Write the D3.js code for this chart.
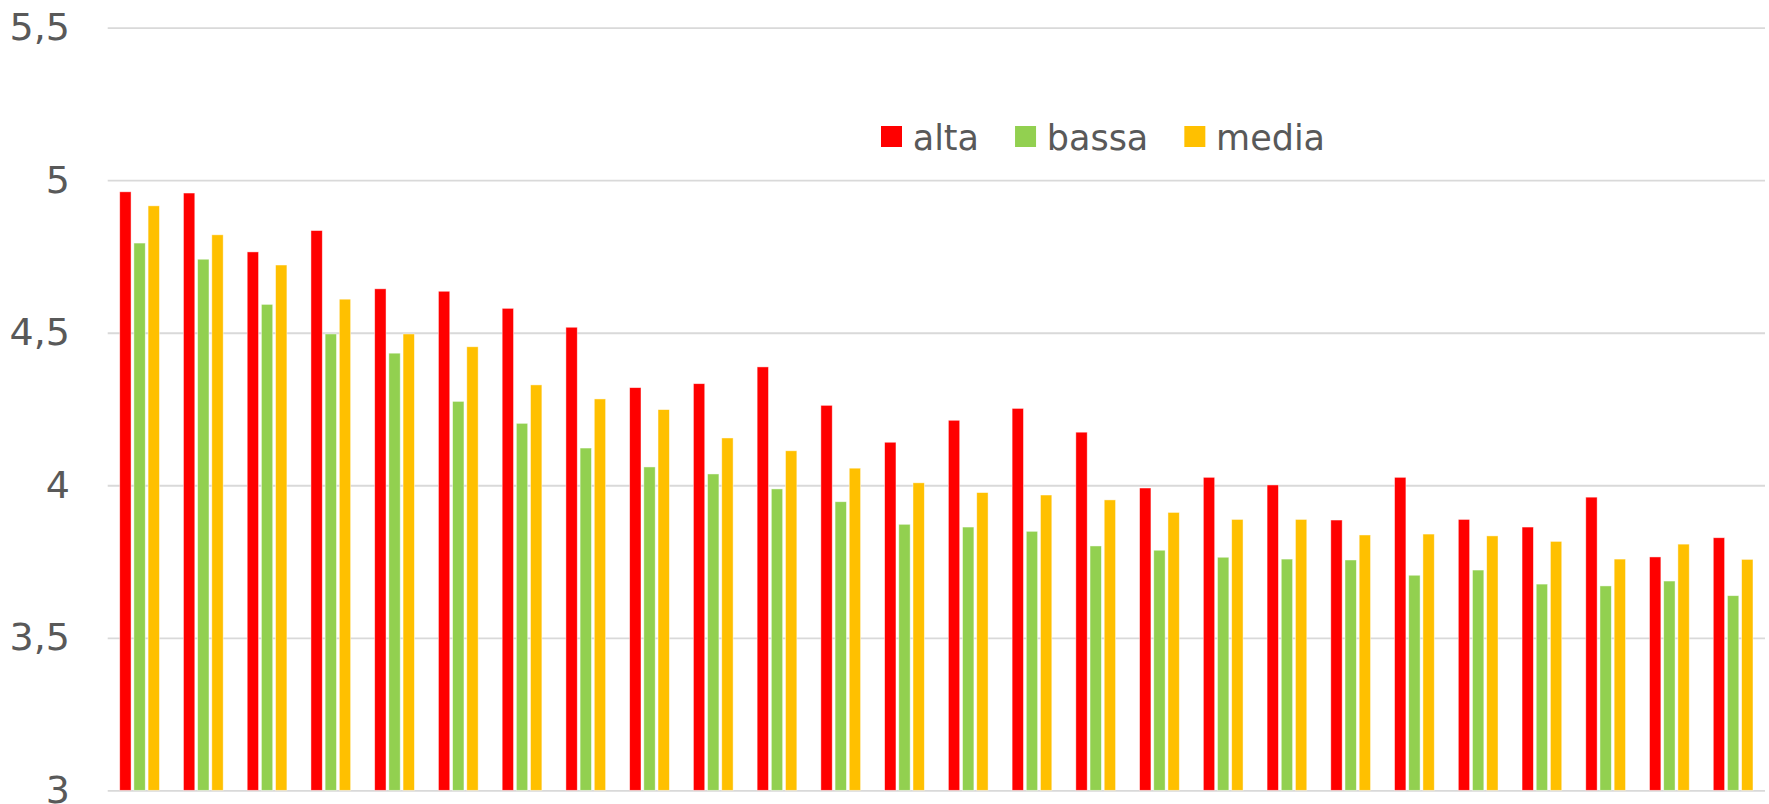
<!DOCTYPE html>
<html>
<head>
<meta charset="utf-8">
<script src="https://cdn.jsdelivr.net/npm/d3@7"></script>
<style>
  body { margin: 0; background: #fff; }
  svg { display: block; }
</style>
</head>
<body>
<div id="chart"></div>
<script>
// values
var categories = ["1","2","3","4","5","6","7","8","9","10","11","12","13",
  "14","15","16","17","18","19","20","21","22","23","24","25","26"];
var seriesNames = ["alta", "bassa", "media"];
var seriesColors = ["#FF0000", "#92D050", "#FFC000"];

var alta = [4.962, 4.958, 4.765, 4.835, 4.644, 4.636, 4.580, 4.518, 4.320, 4.333,
  4.388, 4.262, 4.141, 4.213, 4.252, 4.174, 3.991, 4.026, 4.001, 3.886,
  4.026, 3.888, 3.863, 3.961, 3.765, 3.828];
var bassa = [4.794, 4.741, 4.593, 4.496, 4.433, 4.275, 4.203, 4.122, 4.060, 4.037,
  3.988, 3.946, 3.872, 3.863, 3.849, 3.801, 3.787, 3.764, 3.758, 3.755,
  3.705, 3.722, 3.676, 3.670, 3.686, 3.638];
var media = [4.916, 4.821, 4.722, 4.610, 4.496, 4.454, 4.329, 4.283, 4.248, 4.155,
  4.113, 4.056, 4.008, 3.976, 3.968, 3.952, 3.911, 3.888, 3.888, 3.837,
  3.840, 3.834, 3.816, 3.758, 3.807, 3.757];

var yTicks = [3, 3.5, 4, 4.5, 5, 5.5];
var yTickLabels = ["3", "3,5", "4", "4,5", "5", "5,5"];

var width = 1769, height = 804;
// plot area (note: "top" is a reserved window property, so use other names)
var plotLeft = 107.7, plotRight = 1765, plotTop = 27.7, plotBottom = 790.3;
var font = "'DejaVu Sans', sans-serif";

var svg = d3.select("#chart").append("svg")
  .attr("width", width)
  .attr("height", height);

var x0 = d3.scaleBand()
  .domain(categories)
  .range([plotLeft, plotRight])
  .paddingInner(0.377)
  .paddingOuter(0.1885);

var x1 = d3.scaleBand()
  .domain(seriesNames)
  .range([0, x0.bandwidth()])
  .paddingInner(0.2);

var y = d3.scaleLinear()
  .domain([3, 5.5])
  .range([plotBottom, plotTop]);

// gridlines + labels through the axis
var yAxis = d3.axisLeft(y)
  .tickValues(yTicks)
  .tickSize(-(plotRight - plotLeft))
  .tickPadding(37.7)
  .tickFormat(function(d, i) { return yTickLabels[i]; });

var gy = svg.append("g")
  .attr("transform", "translate(" + plotLeft + ",0)")
  .call(yAxis);
gy.select(".domain").remove();
gy.selectAll(".tick line")
  .attr("stroke", "#D9D9D9")
  .attr("stroke-width", 1.8);
gy.selectAll(".tick text")
  .attr("fill", "#595959")
  .attr("dy", "0.32em")
  .style("font-family", font)
  .style("font-size", "38px");

// one row of values per category
var rows = categories.map(function(c, i) {
  return { cat: c, values: [alta[i], bassa[i], media[i]] };
});

var groups = svg.append("g").selectAll("g")
  .data(rows)
  .enter().append("g")
  .attr("transform", function(d) { return "translate(" + x0(d.cat) + ",0)"; });

groups.selectAll("rect")
  .data(function(d) {
    return d.values.map(function(v, k) { return { key: seriesNames[k], value: v, color: seriesColors[k] }; });
  })
  .enter().append("rect")
  .attr("x", function(d) { return x1(d.key); })
  .attr("y", function(d) { return y(d.value); })
  .attr("width", x1.bandwidth())
  .attr("height", function(d) { return y(3) - y(d.value); })
  .attr("fill", function(d) { return d.color; })
  .attr("stroke", "#fff")
  .attr("stroke-opacity", 0.6)
  .attr("stroke-width", 0.75);

// legend
var legend = svg.append("g");
var lx = 881;
seriesNames.forEach(function(name, k) {
  legend.append("rect")
    .attr("x", lx)
    .attr("y", 126)
    .attr("width", 21)
    .attr("height", 21)
    .attr("fill", seriesColors[k]);
  var t = legend.append("text")
    .attr("x", lx + 31.7)
    .attr("y", 150)
    .attr("fill", "#595959")
    .style("font-family", font)
    .style("font-size", "35px")
    .text(name);
  lx += 31.7 + t.node().getComputedTextLength() + 36;
});
</script>
</body>
</html>
